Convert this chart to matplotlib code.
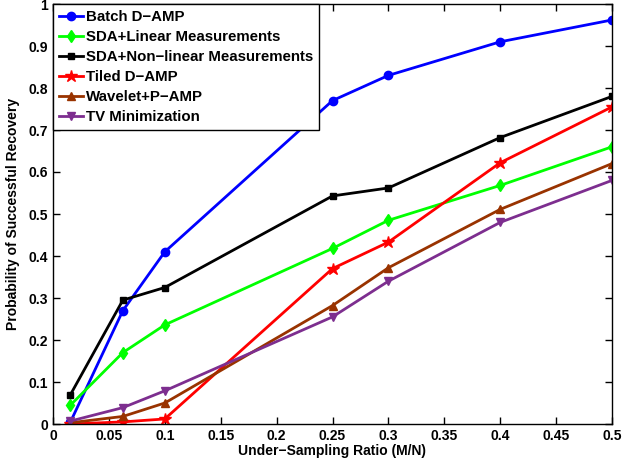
import numpy as np
import matplotlib
matplotlib.use("Agg")
import matplotlib.pyplot as plt

plt.rcParams['font.family'] = ['Liberation Sans', 'DejaVu Sans']
plt.rcParams['font.weight'] = 'bold'

ratio = [1/64, 1/16, 0.1, 0.25, 0.3, 0.4, 0.5]

batch_damp = [0.005, 0.27, 0.41, 0.77, 0.83, 0.91, 0.962]
sda_linear = [0.045, 0.17, 0.236, 0.418, 0.485, 0.568, 0.66]
sda_nonlinear = [0.07, 0.295, 0.325, 0.543, 0.562, 0.682, 0.78]
tiled_damp = [0.0, 0.005, 0.012, 0.37, 0.433, 0.622, 0.755]
wavelet_pamp = [0.003, 0.018, 0.05, 0.282, 0.372, 0.511, 0.62]
tv_min = [0.007, 0.039, 0.079, 0.255, 0.34, 0.48, 0.58]

fig = plt.figure(figsize=(6.4, 4.61), dpi=100)
ax = fig.add_axes([53/640, 37/461, 559/640, 420/461])

ax.plot(ratio, batch_damp, '-o', color=(0, 0, 1), lw=2, ms=6, label='Batch D\u2212AMP')
ax.plot(ratio, sda_linear, '-d', color=(0, 1, 0), lw=2, ms=6, label='SDA+Linear Measurements')
ax.plot(ratio, sda_nonlinear, '-s', color='k', lw=2, ms=5, label='SDA+Non\u2212linear Measurements')
ax.plot(ratio, tiled_damp, '-*', color=(1, 0, 0), lw=2, ms=9, label='Tiled D\u2212AMP')
ax.plot(ratio, wavelet_pamp, '-^', color=(0.6, 0.2, 0), lw=2, ms=6, label='Wavelet+P\u2212AMP')
ax.plot(ratio, tv_min, '-v', color=(0.49, 0.18, 0.56), lw=2, ms=6, label='TV Minimization')

ax.set_xlim(0, 0.5)
ax.set_ylim(0, 1)
xt = np.arange(0, 0.51, 0.05)
ax.set_xticks(xt)
ax.set_xticklabels(['0', '0.05', '0.1', '0.15', '0.2', '0.25', '0.3', '0.35', '0.4', '0.45', '0.5'])
yt = np.arange(0, 1.01, 0.1)
ax.set_yticks(yt)
ax.set_yticklabels(['0', '0.1', '0.2', '0.3', '0.4', '0.5', '0.6', '0.7', '0.8', '0.9', '1'])
ax.tick_params(direction='in', top=True, right=True, labelsize=10, length=5, width=1)
for s in ax.spines.values():
    s.set_linewidth(1)

ax.set_xlabel('Under\u2212Sampling Ratio (M/N)', fontsize=10, fontweight='bold', labelpad=1)
ax.set_ylabel('Probability of Successful Recovery', fontsize=10, fontweight='bold', labelpad=6)

leg = ax.legend(loc='upper left', fontsize=10.8, frameon=True, fancybox=False,
                edgecolor='k', handlelength=1.6, handletextpad=0.2,
                borderaxespad=0, labelspacing=0.4, borderpad=0.4, framealpha=1)
leg.get_frame().set_linewidth(1)

fig.savefig('out.png', dpi=100)
